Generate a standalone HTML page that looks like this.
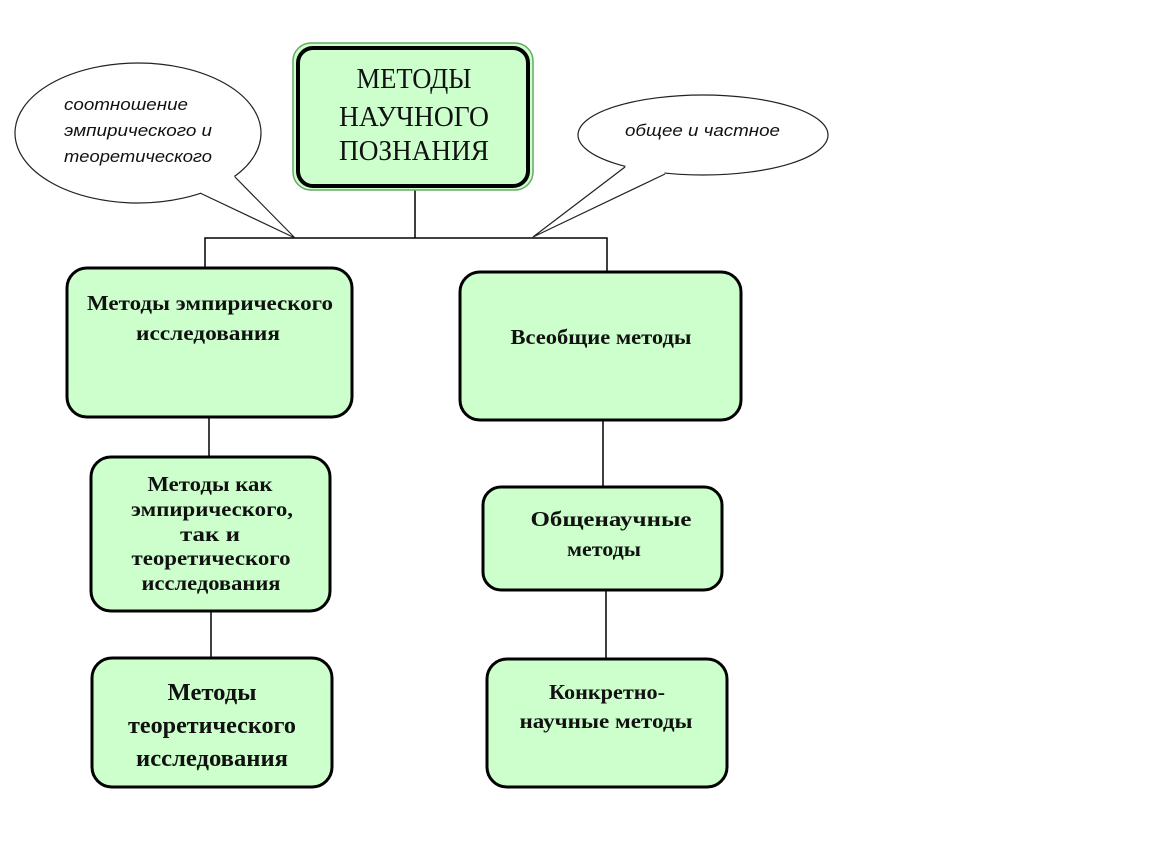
<!DOCTYPE html>
<html><head><meta charset="utf-8"><style>
html,body{margin:0;padding:0;background:#fff;}
svg{display:block;}
.t{font-family:"Liberation Serif",serif;font-weight:bold;font-size:21px;text-anchor:middle;fill:#111;}
.i{font-family:"Liberation Sans",sans-serif;font-style:italic;font-size:17px;fill:#111;}
</style></head><body>
<svg width="1150" height="864" viewBox="0 0 1150 864">
<g stroke="#000" stroke-width="1.5" fill="none">
<line x1="415" y1="190" x2="415" y2="238"/>
<polyline points="205,270 205,238 607,238 607,272"/>
<line x1="209" y1="417" x2="209" y2="457"/>
<line x1="211" y1="611" x2="211" y2="658"/>
<line x1="603" y1="420" x2="603" y2="487"/>
<line x1="606" y1="590" x2="606" y2="659"/>
</g>
<ellipse cx="138" cy="133" rx="123" ry="70" fill="#fff" stroke="#222" stroke-width="1.2"/>
<polygon points="235,177 295,238 200,193 205,180 228,172" fill="#fff"/>
<polyline points="235,177 295,238 200,193" fill="none" stroke="#222" stroke-width="1.2"/>
<ellipse cx="703" cy="135" rx="125" ry="40" fill="#fff" stroke="#222" stroke-width="1.2"/>
<polygon points="625,167 533,237 665,174 660,162 630,160" fill="#fff"/>
<polyline points="625,167 533,237 665,174" fill="none" stroke="#222" stroke-width="1.2"/>
<g class="i">
<text x="64" y="110" textLength="124" lengthAdjust="spacingAndGlyphs">соотношение</text>
<text x="64" y="136" textLength="148" lengthAdjust="spacingAndGlyphs">эмпирического и</text>
<text x="64" y="162" textLength="148" lengthAdjust="spacingAndGlyphs">теоретического</text>
<text x="625" y="136" textLength="155" lengthAdjust="spacingAndGlyphs">общее и частное</text>
</g>
<rect x="293" y="43" width="240" height="147" rx="18" fill="#ccffcc" stroke="#6a6" stroke-width="1.5"/>
<rect x="298" y="48" width="230" height="138" rx="15" fill="#ccffcc" stroke="#000" stroke-width="4"/>
<g class="t" style="font-weight:normal;font-size:29px">
<text x="414" y="88" textLength="115" lengthAdjust="spacingAndGlyphs">МЕТОДЫ</text>
<text x="414" y="126" textLength="150" lengthAdjust="spacingAndGlyphs">НАУЧНОГО</text>
<text x="414" y="160" textLength="150" lengthAdjust="spacingAndGlyphs">ПОЗНАНИЯ</text>
</g>
<g fill="#ccffcc" stroke="#000" stroke-width="3">
<rect x="67" y="268" width="285" height="149" rx="20"/>
<rect x="460" y="272" width="281" height="148" rx="20"/>
<rect x="91" y="457" width="239" height="154" rx="20"/>
<rect x="92" y="658" width="240" height="129" rx="20"/>
<rect x="483" y="487" width="239" height="103" rx="18"/>
<rect x="487" y="659" width="240" height="128" rx="20"/>
</g>
<g class="t">
<text x="210" y="310" textLength="246" lengthAdjust="spacingAndGlyphs">Методы эмпирического</text>
<text x="208" y="340" textLength="144" lengthAdjust="spacingAndGlyphs">исследования</text>
<text x="601" y="344" textLength="181" lengthAdjust="spacingAndGlyphs">Всеобщие методы</text>
<text x="210" y="491" textLength="125" lengthAdjust="spacingAndGlyphs">Методы как</text>
<text x="212" y="516" textLength="162" lengthAdjust="spacingAndGlyphs">эмпирического,</text>
<text x="210" y="541" textLength="60" lengthAdjust="spacingAndGlyphs">так и</text>
<text x="211" y="565" textLength="159" lengthAdjust="spacingAndGlyphs">теоретического</text>
<text x="211" y="590" textLength="139" lengthAdjust="spacingAndGlyphs">исследования</text>
<text x="611" y="526" textLength="161" lengthAdjust="spacingAndGlyphs">Общенаучные</text>
<text x="604" y="556" textLength="74" lengthAdjust="spacingAndGlyphs">методы</text>
<text x="607" y="699" textLength="116" lengthAdjust="spacingAndGlyphs">Конкретно-</text>
<text x="606" y="728" textLength="173" lengthAdjust="spacingAndGlyphs">научные методы</text>
</g>
<g class="t" style="font-size:24px">
<text x="212" y="700" textLength="89" lengthAdjust="spacingAndGlyphs">Методы</text>
<text x="212" y="733" textLength="168" lengthAdjust="spacingAndGlyphs">теоретического</text>
<text x="212" y="766" textLength="152" lengthAdjust="spacingAndGlyphs">исследования</text>
</g>
</svg>
</body></html>
